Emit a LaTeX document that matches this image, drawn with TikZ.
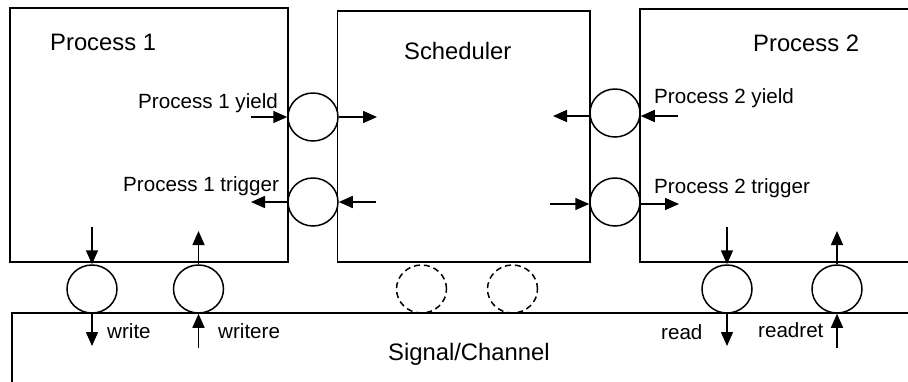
\documentclass[tikz,border=0pt]{standalone}
\usepackage{fontspec}
\setmainfont{Liberation Sans}
\usetikzlibrary{arrows.meta,shapes.geometric}
\begin{document}
\begin{tikzpicture}[x=1pt,y=-1pt,
  frame/.style={line width=1.8pt},
  port/.style={draw,ellipse,line width=1.5pt,minimum width=50pt,minimum height=48pt,inner sep=0pt},
  dport/.style={port,dash pattern=on 6pt off 4pt},
  arr/.style={line width=1.5pt,-{Triangle[length=14pt,width=12pt]}},
  big/.style={font=\fontsize{23.8}{28}\selectfont,inner sep=0pt,anchor=base west},
  small/.style={font=\fontsize{20.6}{24}\selectfont,inner sep=0pt,anchor=base west}]
\useasboundingbox (0,0) rectangle (908,381);
% boxes
\draw[frame] (10,8) rectangle (288,262);
\draw[frame] (337.5,11) rectangle (590,262);
\draw[frame] (920,9) -- (640,9) -- (640,262) -- (920,262);
\draw[frame] (920,313) -- (12,313) -- (12,390);
% titles
\node[big] (tp1) at (50,50) {Process 1};
\node[big] (tsch) at (404,59) {Scheduler};
\node[big] (tp2) at (753,51) {Process 2};
\node[big] (tsig) at (388,360) {Signal/Channel};
% ports
\node[port] (y1) at (313,117) {};
\node[port] (t1) at (313,202) {};
\node[port] (y2) at (615,113) {};
\node[port] (t2) at (615,202) {};
\node[port] (w) at (92,289) {};
\node[port] (we) at (198.5,289) {};
\node[dport] (d1) at (421.5,289) {};
\node[dport] (d2) at (512.5,289) {};
\node[port] (r) at (727,289) {};
\node[port] (rr) at (837,289) {};
% labels
\node[small] (ly1) at (138,108) {Process 1 yield};
\node[small] (lt1) at (123,191) {Process 1 trigger};
\node[small] (ly2) at (654,103) {Process 2 yield};
\node[small] (lt2) at (654,193) {Process 2 trigger};
\node[small] (lw) at (107,338) {write};
\node[small] (lwe) at (218,338) {writere};
\node[small] (lr) at (661,339) {read};
\node[small] (lrr) at (758,337) {readret};
% free ends
\coordinate (a1) at (251,117);
\coordinate (a2) at (377,117);
\coordinate (a3) at (376,202);
\coordinate (a4) at (251,202);
\coordinate (b1) at (678,116);
\coordinate (b2) at (553,116);
\coordinate (b3) at (550,204);
\coordinate (b4) at (679,204);
\coordinate (c1) at (92,227);
\coordinate (c2) at (92,346);
\coordinate (c3) at (198.5,348);
\coordinate (c4) at (198.5,231);
\coordinate (e1) at (727,227);
\coordinate (e2) at (727,346);
\coordinate (e3) at (837,348);
\coordinate (e4) at (837,231);
% connectors
\draw[arr] (a1) -- (y1.west);
\draw[arr] (y1.east) -- (a2);
\draw[arr] (a3) -- (t1.east);
\draw[arr] (t1.west) -- (a4);
\draw[arr] (b1) -- (y2.east |- b1);
\draw[arr] (y2.west |- b2) -- (b2);
\draw[arr] (b3) -- (t2.west |- b3);
\draw[arr] (t2.east |- b4) -- (b4);
\draw[arr] (c1) -- (w.north);
\draw[arr] (w.south) -- (c2);
\draw[arr] (c3) -- (we.south);
\draw[arr] (we.north) -- (c4);
\draw[arr] (e1) -- (r.north);
\draw[arr] (r.south) -- (e2);
\draw[arr] (e3) -- (rr.south);
\draw[arr] (rr.north) -- (e4);
\end{tikzpicture}
\end{document}
